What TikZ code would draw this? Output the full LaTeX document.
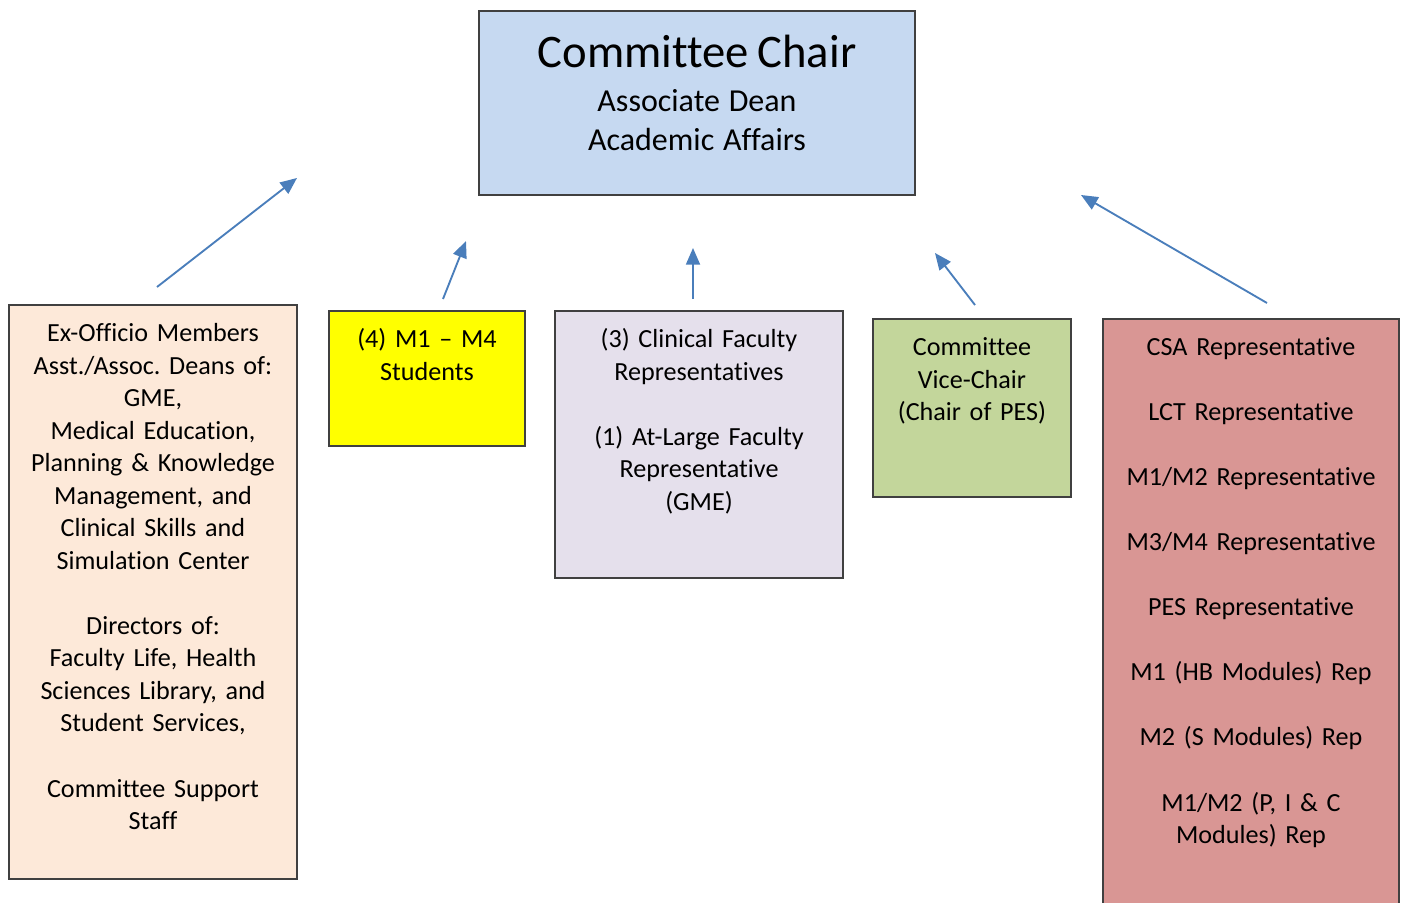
\documentclass[tikz,border=0pt]{standalone}
\usepackage{fontspec}
\setmainfont{Carlito}[Ligatures=NoCommon]
\usetikzlibrary{arrows.meta}
\definecolor{chairblue}{HTML}{C6D9F1}
\definecolor{exoffpeach}{HTML}{FDE9D9}
\definecolor{studyellow}{HTML}{FFFF00}
\definecolor{faclilac}{HTML}{E5E0EC}
\definecolor{vicegreen}{HTML}{C3D69B}
\definecolor{repsred}{HTML}{D99694}
\definecolor{boxgray}{HTML}{404040}
\definecolor{arrowblue}{HTML}{4A7EBB}
\frenchspacing

\begin{document}
\begin{tikzpicture}[x=0.75pt, y=-0.75pt,
		box/.style={draw=boxgray, line width=1.2pt, inner sep=0pt},
		txt/.style={anchor=base, align=center, inner sep=0pt, font=\fontsize{19.6}{24.4}\selectfont},
		arr/.style={draw=arrowblue, line width=1.4pt, -{Triangle[length=12.5pt,width=10.5pt]}}]
			\useasboundingbox (0,0) rectangle (1403,903);
			%boxes
			\node[box, fill=chairblue, minimum width=327pt, minimum height=138pt] (chair) at (697,103) {};
			\node[box, fill=exoffpeach, minimum width=216pt, minimum height=430.5pt] (exoff) at (153,592) {};
			\node[box, fill=studyellow, minimum width=147pt, minimum height=101.25pt] (stud) at (427,378.5) {};
			\node[box, fill=faclilac, minimum width=216pt, minimum height=200.25pt] (fac) at (699,444.5) {};
			\node[box, fill=vicegreen, minimum width=148.5pt, minimum height=133.5pt] (vice) at (972,408) {};
			\node[box, fill=repsred, minimum width=222pt, minimum height=443.25pt] (reps) at (1251,614.5) {};
			%box texts
			\node[txt, text width=320pt] (chairtext) at ([yshift=-43.3pt]chair.north)
				{\fontsize{35}{42}\selectfont Committee Chair\\[3.8pt]\fontsize{24}{28.7}\selectfont Associate Dean\\[4.7pt]Academic Affairs};
			\node[txt, text width=210pt] (exofftext) at ([yshift=-28pt]exoff.north)
				{Ex-Officio Members\\Asst./Assoc. Deans of:\\GME,\\Medical Education,\\Planning \& Knowledge\\Management, and\\Clinical Skills and\\Simulation Center\\[24.4pt]Directors of:\\Faculty Life, Health\\Sciences Library, and\\Student Services,\\[24.4pt]Committee Support\\Staff};
			\node[txt, text width=140pt] (studtext) at ([yshift=-28pt]stud.north) {(4) M1 – M4\\Students};
			\node[txt, text width=210pt] (factext) at ([yshift=-28pt]fac.north)
				{(3) Clinical Faculty\\Representatives\\[24.4pt](1) At-Large Faculty\\Representative\\(GME)};
			\node[txt, text width=140pt] (vicetext) at ([yshift=-28pt]vice.north) {Committee\\Vice-Chair\\(Chair of PES)};
			\node[txt, text width=215pt] (repstext) at ([yshift=-28pt]reps.north)
				{CSA Representative\\[24.4pt]LCT Representative\\[24.4pt]M1/M2 Representative\\[24.4pt]M3/M4 Representative\\[24.4pt]PES Representative\\[24.4pt]M1 (HB Modules) Rep\\[24.4pt]M2 (S Modules) Rep\\[24.4pt]M1/M2 (P, I \& C\\Modules) Rep};
			%arrows up to the chair
			\coordinate (exofftail) at (157,287);
			\coordinate (exoffhead) at (297,178);
			\coordinate (studtail) at (443,299);
			\coordinate (studhead) at (466,241);
			\coordinate (factail) at (693,299);
			\coordinate (fachead) at (693,248);
			\coordinate (vicetail) at (975,305);
			\coordinate (vicehead) at (935,253);
			\coordinate (repstail) at (1267,303);
			\coordinate (repshead) at (1081,195);
			\draw[arr] (exofftail) -- (exoffhead);
			\draw[arr] (studtail) -- (studhead);
			\draw[arr] (factail) -- (fachead);
			\draw[arr] (vicetail) -- (vicehead);
			\draw[arr] (repstail) -- (repshead);
		\end{tikzpicture}
\end{document}
